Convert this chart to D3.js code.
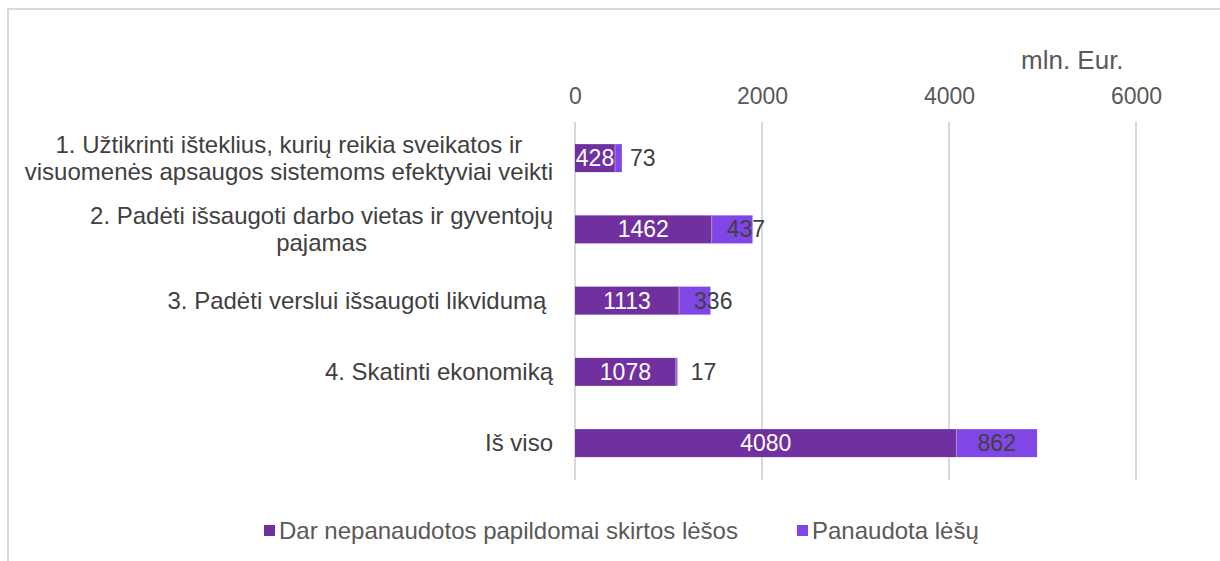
<!DOCTYPE html>
<html lang="lt">
<head>
<meta charset="UTF-8">
<title>Lėšos</title>
<script src="https://d3js.org/d3.v7.min.js"></script>
<style>
  body { margin: 0; background: #fff; }
  svg { display: block; }
  text { font-family: "Liberation Sans", Arial, sans-serif; white-space: pre; }
</style>
</head>
<body>
<svg width="1220" height="561"></svg>
<script>
// data
const categories = [
  ["1. Užtikrinti išteklius, kurių reikia sveikatos ir", "visuomenės apsaugos sistemoms efektyviai veikti"],
  ["2. Padėti išsaugoti darbo vietas ir gyventojų", "pajamas"],
  ["3. Padėti verslui išsaugoti likvidumą "],
  ["4. Skatinti ekonomiką"],
  ["Iš viso"]
];
const unused = [428, 1462, 1113, 1078, 4080];
const used = [73, 437, 336, 17, 862];
const seriesNames = ["Dar nepanaudotos papildomai skirtos lėšos", "Panaudota lėšų"];
const xTicks = [0, 2000, 4000, 6000];
const colors = ["#7030a0", "#8047e6"];

const svg = d3.select("svg");

// chart frame
svg.append("rect")
  .attr("x", 8).attr("y", 9).attr("width", 1240).attr("height", 600)
  .attr("fill", "none").attr("stroke", "#d9d9d9").attr("stroke-width", 2);

const x = d3.scaleLinear().domain([0, 6000]).range([575, 1136]);
const y = d3.scaleBand()
  .domain(d3.range(categories.length))
  .range([122.5, 478.75])
  .paddingInner(0.607).paddingOuter(0.3035);

// gridlines
svg.selectAll(".grid")
  .data(xTicks)
  .enter().append("line")
  .attr("x1", d => x(d)).attr("x2", d => x(d))
  .attr("y1", 122).attr("y2", 480)
  .attr("stroke", "#d9d9d9").attr("stroke-width", 2);

// top axis labels
const axis = d3.axisTop(x).tickValues(xTicks).tickSize(0).tickPadding(0).tickFormat(d3.format("d"));
const ax = svg.append("g").attr("transform", "translate(0,104)").call(axis);
ax.select(".domain").remove();
ax.selectAll("text")
  .attr("fill", "#595959")
  .style("font-size", "23px")
  .style("font-family", "Liberation Sans, Arial, sans-serif");

svg.append("text")
  .attr("x", 1021).attr("y", 69)
  .attr("fill", "#595959")
  .style("font-size", "26px")
  .text("mln. Eur.");

// category labels
const labelRight = 553;
categories.forEach((lines, i) => {
  const cy = y(i) + y.bandwidth() / 2;
  const g = svg.append("g");
  const texts = lines.map((l, j) => g.append("text")
    .attr("fill", "#404040")
    .style("font-size", "24px")
    .attr("y", cy + (j - (lines.length - 1) / 2) * 27 + 8)
    .text(l));
  const widths = texts.map(t => t.node().getComputedTextLength());
  const maxW = d3.max(widths);
  texts.forEach(t => t.attr("text-anchor", "middle").attr("x", labelRight - maxW / 2));
});

// bars
const rows = categories.map((c, i) => ({ i, a: unused[i], b: used[i] }));

svg.selectAll(".barA")
  .data(rows)
  .enter().append("rect")
  .attr("x", x(0))
  .attr("y", d => y(d.i))
  .attr("width", d => x(d.a) - x(0))
  .attr("height", y.bandwidth())
  .attr("fill", colors[0]);

svg.selectAll(".barB")
  .data(rows)
  .enter().append("rect")
  .attr("x", d => x(d.a))
  .attr("y", d => y(d.i))
  .attr("width", d => x(d.a + d.b) - x(d.a))
  .attr("height", y.bandwidth())
  .attr("fill", colors[1]);

// thin separator between segments
svg.selectAll(".sep")
  .data(rows)
  .enter().append("line")
  .attr("x1", d => x(d.a)).attr("x2", d => x(d.a))
  .attr("y1", d => y(d.i)).attr("y2", d => y(d.i) + y.bandwidth())
  .attr("stroke", "#b08ad0").attr("stroke-width", 1);

// value labels
svg.selectAll(".lblA")
  .data(rows)
  .enter().append("text")
  .attr("x", d => (x(0) + x(d.a)) / 2)
  .attr("y", d => y(d.i) + y.bandwidth() / 2 + 8)
  .attr("text-anchor", "middle")
  .attr("fill", "#ffffff")
  .style("font-size", "23px")
  .text(d => d.a);

const last = rows.length - 1;
svg.selectAll(".lblB")
  .data(rows)
  .enter().append("text")
  .attr("x", d => d.i === last ? (x(d.a) + x(d.a + d.b)) / 2 : x(d.a) + 15)
  .attr("y", d => y(d.i) + y.bandwidth() / 2 + 8)
  .attr("text-anchor", d => d.i === last ? "middle" : "start")
  .attr("fill", "#404040")
  .style("font-size", "23px")
  .text(d => d.b);

// legend
const legend = svg.append("g");
const lx = [264, 797];
seriesNames.forEach((name, i) => {
  legend.append("rect")
    .attr("x", lx[i]).attr("y", 525).attr("width", 11).attr("height", 11)
    .attr("fill", colors[i]);
  legend.append("text")
    .attr("x", lx[i] + 15).attr("y", 539)
    .attr("fill", "#595959")
    .style("font-size", "24px")
    .text(name);
});
</script>
</body>
</html>
